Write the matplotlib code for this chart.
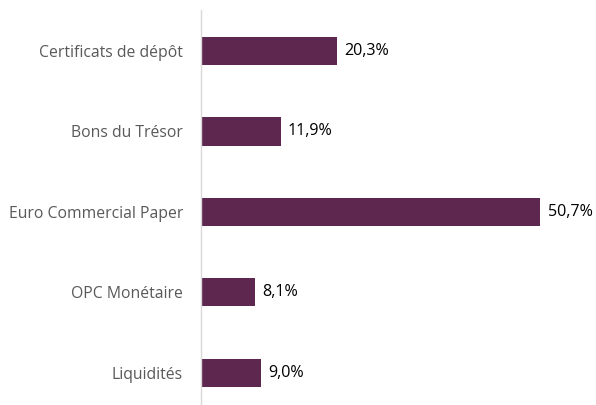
import matplotlib
matplotlib.use('Agg')
import matplotlib.pyplot as plt

plt.rcParams['font.family'] = ['Open Sans', 'DejaVu Sans']

categories = ['Certificats de dépôt', 'Bons du Trésor', 'Euro Commercial Paper',
              'OPC Monétaire', 'Liquidités']
shares = [20.3, 11.9, 50.7, 8.1, 9.0]
labels = ['20,3%', '11,9%', '50,7%', '8,1%', '9,0%']

bar_color = '#5E2750'

fig = plt.figure(figsize=(5.96, 4.05), dpi=100)
ax = fig.add_axes([201 / 596, 0.0, 388 / 596, 395 / 405])

pos = list(range(len(categories)))
ax.barh(pos, shares, height=0.35, color=bar_color)

for y, v, t in zip(pos, shares, labels):
    ax.text(v + 1.1, y, t, va='center', ha='left', fontsize=11.6, color='black')

ax.set_xlim(0, 58)
ax.set_ylim(4.4, -0.51)
ax.set_yticks(pos)
ax.set_yticklabels(categories, fontsize=11.3, color='#595959')
ax.tick_params(axis='y', length=0, pad=13)
ax.set_xticks([])

for s in ['top', 'right', 'bottom']:
    ax.spines[s].set_visible(False)
ax.spines['left'].set_color('#D9D9D9')
ax.spines['left'].set_linewidth(1.0)

fig.savefig('out.png', dpi=100)
